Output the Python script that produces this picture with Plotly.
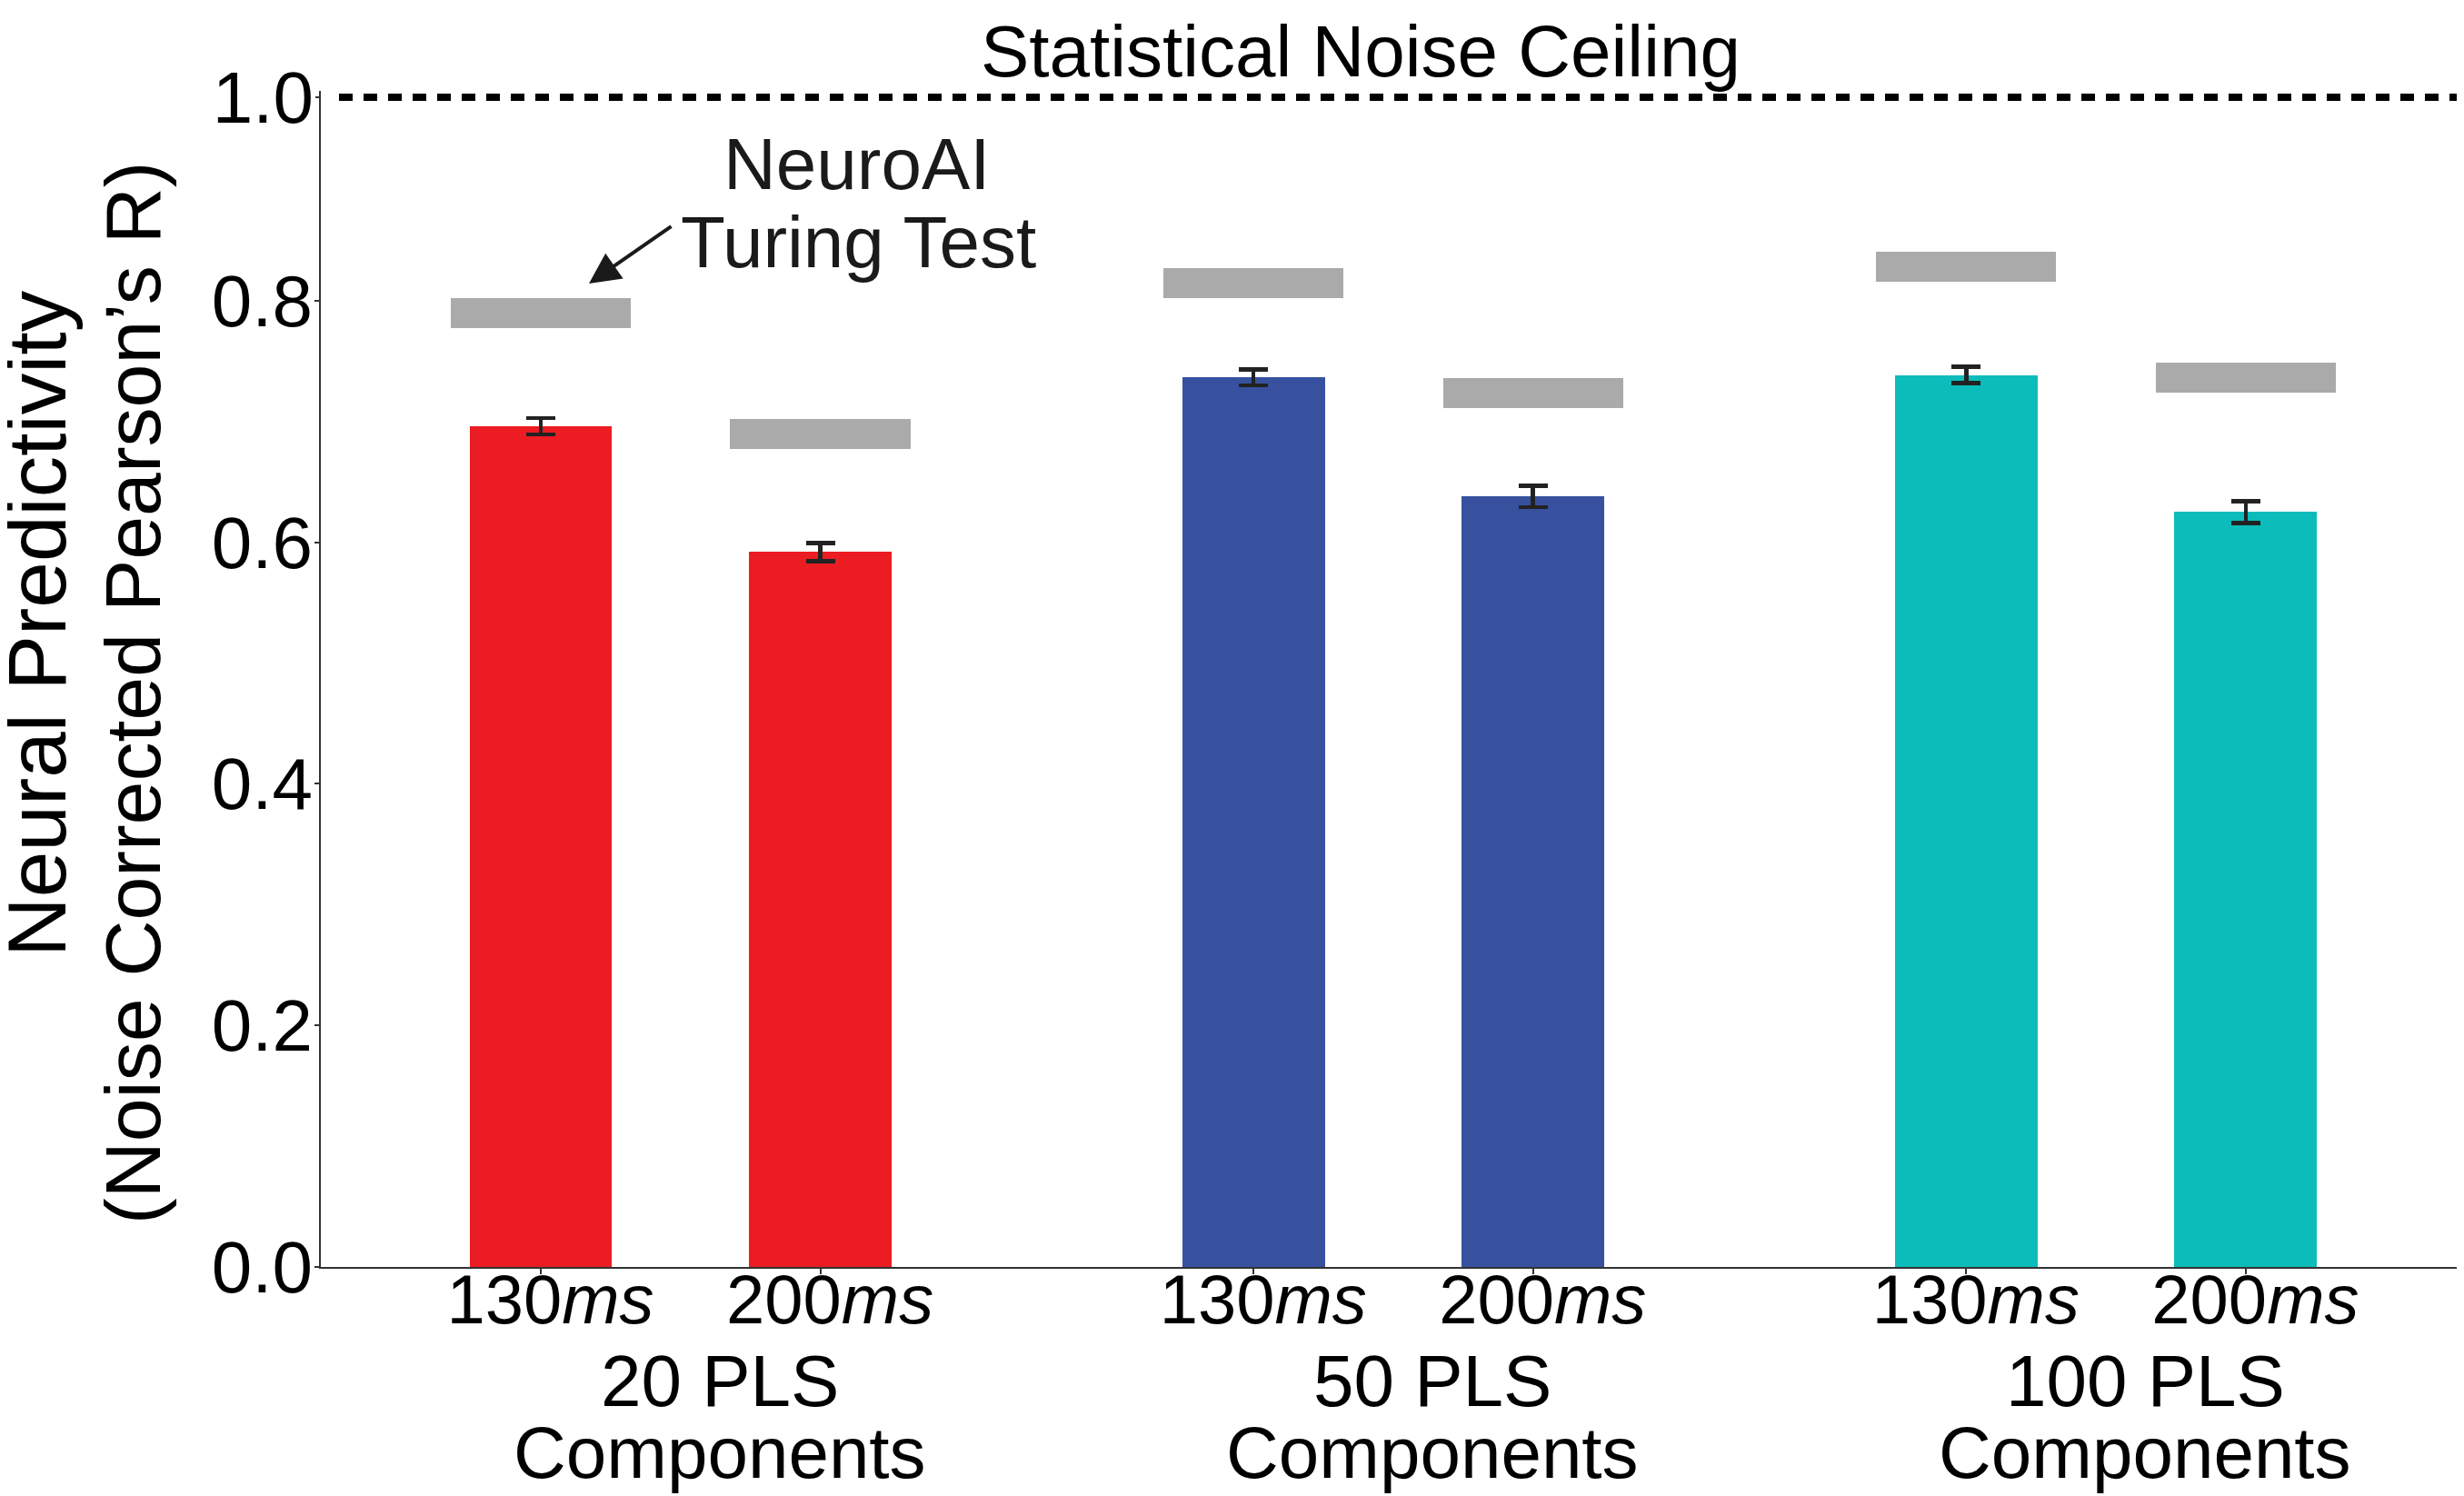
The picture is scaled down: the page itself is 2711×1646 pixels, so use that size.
import plotly.graph_objects as go

# ---------------- data ----------------
group_labels = ["20 PLS", "50 PLS", "100 PLS"]
group_sub = "Components"
latencies = ["130", "200"]

pred_20 = [0.696, 0.592]
pred_50 = [0.7366, 0.638]
pred_100 = [0.7385, 0.625]

err_20 = [0.0068, 0.0075]
err_50 = [0.0065, 0.0088]
err_100 = [0.0068, 0.0092]

turing_20 = [0.790, 0.690]
turing_50 = [0.8144, 0.7237]
turing_100 = [0.828, 0.7363]

noise_ceiling = 1.0
y_ticks = [0.0, 0.2, 0.4, 0.6, 0.8]
y_ticktext = ["0.0", "0.2", "0.4", "0.6", "0.8"]

# ---------------- style ----------------
FONT = "Liberation Sans, Arial, Helvetica, sans-serif"
colors = ["#EB1C22", "#37519E", "#0BBCBB"]
GREY = "#AAAAAA"
GROUP_STEP = 2.55
BAR_W = 0.51
GREY_W = 0.645
GREY_THICK = 0.0248

preds = [pred_20, pred_50, pred_100]
errs = [err_20, err_50, err_100]
turings = [turing_20, turing_50, turing_100]

fig = go.Figure()

tickvals, ticktext = [], []
for g in range(len(group_labels)):
    xs = [g * GROUP_STEP + b for b in range(len(latencies))]
    tickvals += xs
    ticktext += [f"\u00a0{lat}<i>ms</i>" for lat in latencies]
    fig.add_trace(go.Bar(
        x=xs, y=preds[g], width=BAR_W,
        marker=dict(color=colors[g], line=dict(width=0)),
        error_y=dict(type="data", array=errs[g], color="#222222",
                     thickness=4.5, width=16, visible=True),
        showlegend=False,
    ))
    fig.add_trace(go.Bar(
        x=xs, y=[GREY_THICK] * len(xs),
        base=[v - GREY_THICK / 2 for v in turings[g]],
        width=GREY_W,
        marker=dict(color=GREY, line=dict(width=0)),
        showlegend=False,
    ))

X_LO, X_HI = -0.787, 6.881
fig.add_trace(go.Scatter(
    x=[X_LO + 0.065, X_HI], y=[noise_ceiling, noise_ceiling], yaxis="y2",
    mode="lines", line=dict(color="black", width=8, dash="15px,12px"),
    showlegend=False, hoverinfo="skip",
))

# page body has an 8px default margin -> compensate
OFF = 8
W, H = 2711 - OFF, 1646 - OFF
ML, MR, MT, MB = 353 - OFF, 0, 100 - OFF, 252
PW, PH = W - ML - MR, H - MT - MB
PLOT_L, PLOT_B = ML + OFF, MT + OFF + PH


def paper_x(px):
    return (px - PLOT_L) / PW


def paper_y(py):
    return (PLOT_B - py) / PH


ann = []
ann.append(dict(text="Statistical Noise Ceiling", x=paper_x(1497), y=paper_y(56),
                xref="paper", yref="paper", showarrow=False,
                xanchor="center", yanchor="middle",
                font=dict(size=80, color="black", family=FONT)))
ann.append(dict(text="NeuroAI", x=paper_x(942), y=paper_y(181),
                xref="paper", yref="paper", showarrow=False,
                xanchor="center", yanchor="middle",
                font=dict(size=80, color="#1a1a1a", family=FONT)))
ann.append(dict(text="Turing Test", x=paper_x(944), y=paper_y(266),
                xref="paper", yref="paper", showarrow=False,
                xanchor="center", yanchor="middle",
                font=dict(size=80, color="#1a1a1a", family=FONT)))
ann.append(dict(text="", x=paper_x(648), y=paper_y(312),
                xref="paper", yref="paper", showarrow=True,
                ax=92, ay=-64, arrowhead=2, arrowsize=1.7, arrowwidth=4,
                arrowcolor="#1a1a1a", standoff=0, startstandoff=0))
ann.append(dict(text="Neural Predictivity", x=paper_x(41), y=paper_y(686),
                xref="paper", yref="paper", showarrow=False, textangle=-90,
                xanchor="center", yanchor="middle",
                font=dict(size=91, color="black", family=FONT)))
ann.append(dict(text="(Noise Corrected Pearson\u2019s R)", x=paper_x(146), y=paper_y(763),
                xref="paper", yref="paper", showarrow=False, textangle=-90,
                xanchor="center", yanchor="middle",
                font=dict(size=86, color="black", family=FONT)))
for g, lab in enumerate(group_labels):
    cx = g * GROUP_STEP + 0.5 + 0.14
    ann.append(dict(text=lab, x=cx, y=paper_y(1519), xref="x", yref="paper",
                    showarrow=False, xanchor="center", yanchor="middle",
                    font=dict(size=80, color="black", family=FONT)))
    ann.append(dict(text=group_sub, x=cx, y=paper_y(1598), xref="x", yref="paper",
                    showarrow=False, xanchor="center", yanchor="middle",
                    font=dict(size=80, color="black", family=FONT)))

fig.update_layout(
    width=W, height=H,
    margin=dict(l=ML, r=MR, t=MT, b=MB, pad=0),
    paper_bgcolor="white", plot_bgcolor="white",
    barmode="overlay",
    bargap=0,
    font=dict(family=FONT, color="black"),
    annotations=ann,
    xaxis=dict(range=[X_LO, X_HI], tickvals=tickvals, ticktext=ticktext,
               showgrid=False, zeroline=False, showline=True, linecolor="#333333",
               linewidth=2, ticks="outside", ticklen=6, tickwidth=1.5, tickcolor="#333333",
               ticklabelstandoff=-37,
               tickfont=dict(size=76, family=FONT, color="black")),
    yaxis=dict(range=[0, 0.9738], tickvals=y_ticks, ticktext=y_ticktext,
               showgrid=False, zeroline=False, showline=True, linecolor="#333333",
               linewidth=2, ticks="outside", ticklen=5, tickwidth=1.5, tickcolor="#333333",
               ticklabelstandoff=-14,
               tickfont=dict(size=80, family=FONT, color="black")),
    yaxis2=dict(range=[0, 1.0054], overlaying="y", side="left",
                tickvals=[noise_ceiling], ticktext=["1.0"],
                showgrid=False, zeroline=False, showline=False,
                ticks="outside", ticklen=5, tickwidth=1.5, tickcolor="#333333",
                ticklabelstandoff=-14,
                tickfont=dict(size=80, family=FONT, color="black")),
)

fig.write_html("out.html")
